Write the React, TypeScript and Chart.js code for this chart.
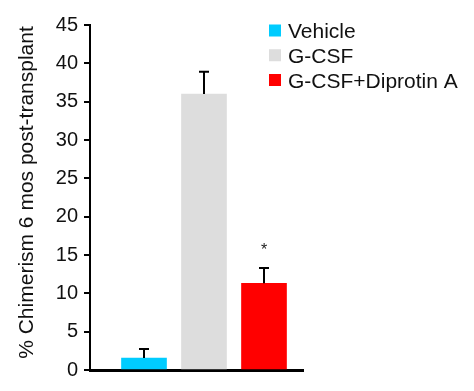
import React, { useEffect, useRef } from 'react';
import { Chart, registerables } from 'chart.js';

Chart.register(...registerables);

// Group names, means and SEM for chimerism at 6 months
const categories = ['Vehicle', 'G-CSF', 'G-CSF+Diprotin A'];
const means = [1.55, 36.0, 11.3];
const sems = [1.2, 2.9, 2.0];
const barColors = ['#00CCFF', '#DDDDDD', '#FF0000'];
const significant = [false, false, true];
const yTitle = '% Chimerism 6 mos post-transplant';
const yMin = 0;
const yMax = 45;
const yStep = 5;

const FONT = '"Liberation Sans", Arial, Helvetica, sans-serif';

// Upward-only SEM whiskers plus significance stars
const errorBarPlugin = {
  id: 'errorBars',
  afterDatasetsDraw(chart: any) {
    const { ctx } = chart;
    const yScale = chart.scales.y;
    const meta = chart.getDatasetMeta(0);
    ctx.save();
    ctx.strokeStyle = '#000';
    ctx.lineWidth = 2;
    meta.data.forEach((el: any, i: number) => {
      const top = yScale.getPixelForValue(means[i] + sems[i]);
      const x = Math.round(el.x);
      ctx.beginPath();
      ctx.moveTo(x, el.y);
      ctx.lineTo(x, top);
      ctx.moveTo(x - 5, top);
      ctx.lineTo(x + 5, top);
      ctx.stroke();
      if (significant[i]) {
        ctx.fillStyle = '#222';
        ctx.font = `16px ${FONT}`;
        ctx.textAlign = 'center';
        ctx.textBaseline = 'alphabetic';
        ctx.fillText('*', x, top - 13.5);
      }
    });
    ctx.restore();
  },
};

// Legend with square swatches in the upper right
const legendPlugin = {
  id: 'squareLegend',
  afterDraw(chart: any) {
    const { ctx } = chart;
    ctx.save();
    ctx.font = `21px ${FONT}`;
    ctx.textAlign = 'left';
    ctx.textBaseline = 'alphabetic';
    categories.forEach((name, i) => {
      const cy = 30.5 + i * 24.75;
      ctx.fillStyle = barColors[i];
      ctx.fillRect(269, cy - 6, 12, 12);
      ctx.fillStyle = '#111';
      ctx.fillText(name, 288, cy + 7.5);
    });
    ctx.restore();
  },
};

// Rotated y-axis title
const yTitlePlugin = {
  id: 'yTitle',
  afterDraw(chart: any) {
    const { ctx } = chart;
    ctx.save();
    ctx.translate(33, 192.5);
    ctx.rotate(-Math.PI / 2);
    ctx.font = `21px ${FONT}`;
    ctx.fillStyle = '#111';
    ctx.textAlign = 'center';
    ctx.textBaseline = 'alphabetic';
    ctx.fillText(yTitle, 0, 0);
    ctx.restore();
  },
};

export default function App() {
  const canvasRef = useRef<HTMLCanvasElement | null>(null);

  useEffect(() => {
    document.body.style.margin = '0';
    const canvas = canvasRef.current;
    if (!canvas) return;
    const chart = new Chart(canvas, {
      type: 'bar',
      data: {
        datasets: [
          {
            label: 'Chimerism',
            data: means.map((v, i) => ({ x: i + 1, y: v })),
            backgroundColor: barColors,
            borderWidth: 0,
            barThickness: 45,
          },
        ],
      },
      options: {
        responsive: false,
        animation: false,
        events: [],
        layout: { padding: { top: 25, right: 171, bottom: 21, left: 0 } },
        plugins: {
          legend: { display: false },
          tooltip: { enabled: false },
        },
        scales: {
          x: {
            type: 'linear',
            offset: false,
            min: 0.1,
            max: 3.65,
            ticks: { display: false },
            grid: { display: false, offset: false },
            border: { display: true, color: '#000', width: 3 },
            afterFit: (scale: any) => {
              scale.height = 0;
            },
          },
          y: {
            min: yMin,
            max: yMax,
            ticks: {
              stepSize: yStep,
              color: '#111',
              padding: 6,
              font: { family: FONT, size: 20 },
            },
            grid: {
              drawOnChartArea: false,
              drawTicks: true,
              tickLength: 6,
              color: '#000',
              lineWidth: 2,
            },
            border: { display: true, color: '#000', width: 2 },
            afterFit: (scale: any) => {
              scale.width = 90;
            },
          },
        },
      },
      plugins: [errorBarPlugin, legendPlugin, yTitlePlugin],
    });
    return () => chart.destroy();
  }, []);

  return (
    <canvas
      ref={canvasRef}
      width={474}
      height={391}
      style={{ display: 'block', width: 474, height: 391 }}
    />
  );
}
